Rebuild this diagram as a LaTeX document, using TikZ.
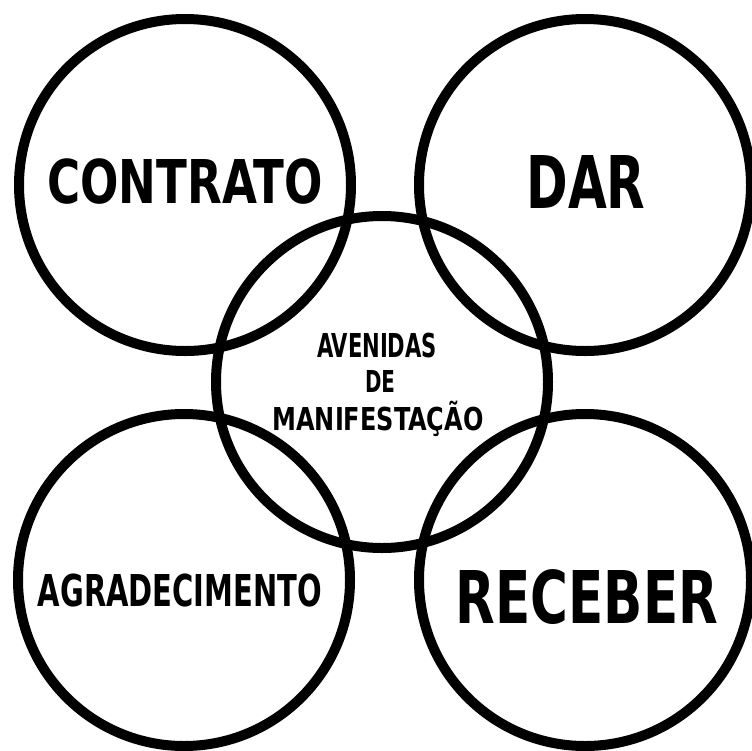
\documentclass[tikz,border=0pt]{standalone}
\usepackage{fontspec}
\usepackage{graphicx}
\setmainfont{DejaVu Sans Condensed}
\newcommand{\fitword}[3]{\resizebox{#1}{#2}{\bfseries\smash{#3}\vphantom{A}}}

\begin{document}
\begin{tikzpicture}[x=1pt,y=-1pt]
					\tikzstyle{ring}=[circle,draw=black,line width=10pt,minimum size=332pt,inner sep=0pt]
					\tikzstyle{word}=[inner sep=0pt]
					\useasboundingbox (0,0) rectangle (752,750);
					\node[ring] (ctr) at (185,185) {};
					\node[ring] (dar) at (585,185) {};
					\node[ring] (av) at (382,382) {};
					\node[ring] (agr) at (184,580) {};
					\node[ring] (rec) at (585,580) {};
					\node[word] (t-ctr) at (185,181) {\fitword{275pt}{44pt}{CONTRATO}};
					\node[word] (t-dar) at (586,182) {\fitword{119pt}{53pt}{DAR}};
					\node[word] (t-agr) at (180,590) {\fitword{284pt}{32pt}{AGRADECIMENTO}};
					\node[word] (t-rec) at (587,597) {\fitword{262pt}{53pt}{RECEBER}};
					\node[word] (t-av1) at (377,345) {\fitword{120pt}{24pt}{AVENIDAS}};
					\node[word] (t-av2) at (380,381) {\fitword{30pt}{22pt}{DE}};
					\node[word] (t-av3) at (378,419) {\fitword{211pt}{23pt}{MANIFESTAÇÃO}};
\end{tikzpicture}
\end{document}
